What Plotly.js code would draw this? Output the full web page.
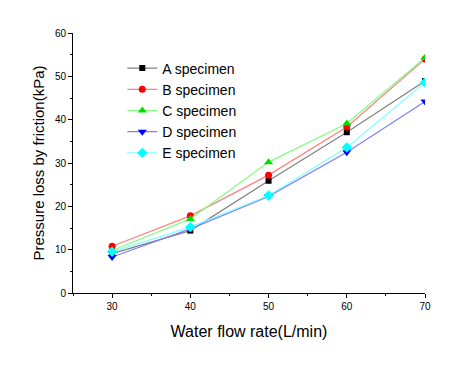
<!DOCTYPE html>
<html><head><meta charset="utf-8">
<script src="https://cdn.plot.ly/plotly-3.0.1.min.js"></script>
<style>html,body{margin:0;padding:0;background:#fff}#c{width:457px;height:367px}</style>
</head><body><div id="c"></div>
<script>
const flowRate = [30, 40, 50, 60, 70];
const seriesNames = ["A specimen", "B specimen", "C specimen", "D specimen", "E specimen"];
const aValues = [9.1, 14.4, 25.9, 37.1, 48.9];
const bValues = [10.8, 17.8, 27.2, 38.3, 54.0];
const cValues = [9.8, 17.1, 30.2, 39.1, 54.3];
const dValues = [8.3, 14.8, 22.3, 32.5, 44.2];
const eValues = [9.5, 15.2, 22.5, 33.6, 48.6];

const styles = [
  {line: "#808080", marker: "#000000", symbol: "square", size: 6},
  {line: "#ff8080", marker: "#ff0000", symbol: "circle", size: 7},
  {line: "#80ff80", marker: "#00e000", symbol: "triangle-up", size: 8},
  {line: "#8080ff", marker: "#0000ff", symbol: "triangle-down", size: 8},
  {line: "#80ffff", marker: "#00ffff", symbol: "diamond", size: 8}
];
const allValues = [aValues, bValues, cValues, dValues, eValues];
const traces = allValues.map((vals, i) => ({
  x: flowRate, y: vals, name: seriesNames[i], type: "scatter", mode: "lines+markers",
  line: {color: styles[i].line, width: 1.2},
  marker: {color: styles[i].marker, symbol: styles[i].symbol, size: styles[i].size}
}));

const layout = {
  width: 457, height: 367,
  margin: {l: 73, r: 32, t: 33, b: 74},
  paper_bgcolor: "#fff", plot_bgcolor: "#fff",
  font: {family: "Liberation Sans, Arial, sans-serif", color: "#000"},
  showlegend: true,
  legend: {x: 0.14, y: 0.925, xanchor: "left", yanchor: "top", bgcolor: "rgba(0,0,0,0)",
    font: {size: 14, color: "#000"}, tracegroupgap: 0, itemwidth: 30},
  xaxis: {
    range: [25, 70], tickvals: [30, 40, 50, 60, 70], ticks: "outside", ticklen: 4, tickwidth: 1,
    tickcolor: "#000", showline: true, linecolor: "#000", linewidth: 1, showgrid: false, zeroline: false,
    tickfont: {size: 10}, minor: {dtick: 5, tick0: 25, ticks: "outside", ticklen: 2, tickcolor: "#000", showgrid: false},
    title: {text: "Water flow rate(L/min)", font: {size: 16}, standoff: 14}
  },
  yaxis: {
    range: [0, 60], dtick: 10, ticks: "outside", ticklen: 4, tickwidth: 1, tickcolor: "#000",
    showline: true, linecolor: "#000", linewidth: 1, showgrid: false, zeroline: false,
    tickfont: {size: 10}, minor: {dtick: 5, ticks: "outside", ticklen: 2, tickcolor: "#000", showgrid: false},
    title: {text: "Pressure loss by friction(kPa)", font: {size: 15}, standoff: 6}
  }
};
Plotly.newPlot("c", traces, layout, {displayModeBar: false, staticPlot: true});
</script></body></html>
